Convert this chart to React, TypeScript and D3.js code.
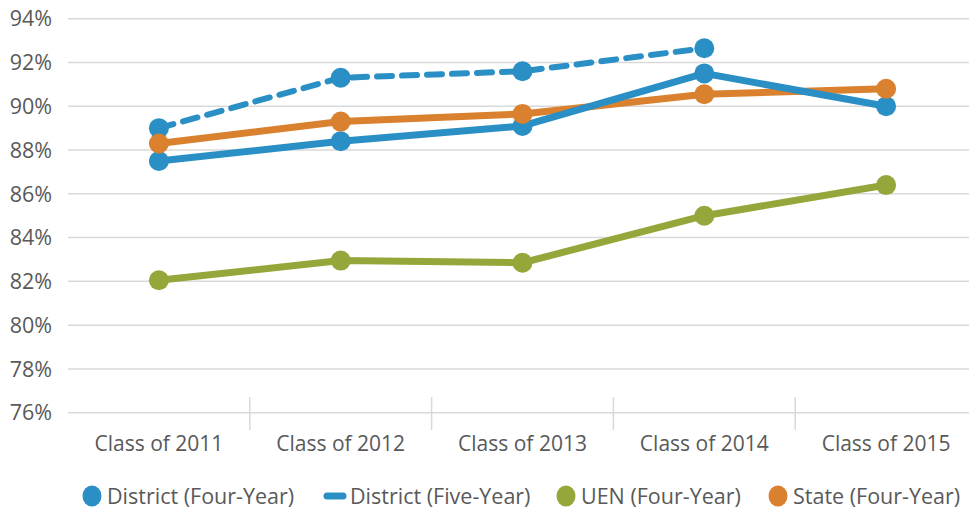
import React from "react";
import * as d3 from "d3";

const categories = ["Class of 2011", "Class of 2012", "Class of 2013", "Class of 2014", "Class of 2015"];
const districtFour = [87.5, 88.4, 89.1, 91.5, 90.0];
const districtFive = [89.0, 91.3, 91.6, 92.65];
const uenFour = [82.05, 82.95, 82.85, 85.0, 86.4];
const stateFour = [88.3, 89.3, 89.65, 90.55, 90.8];
const yTicks = [76, 78, 80, 82, 84, 86, 88, 90, 92, 94];

const BLUE = "#2a8fc4";
const ORANGE = "#d9812f";
const GREEN = "#95a73a";
const TEXT = "#595959";
const FONT = "'Open Sans', 'Noto Sans', sans-serif";

export default function App() {
  const W = 969, H = 512;
  const x = d3.scaleBand<string>().domain(categories).range([68, 977]);
  const y = d3.scaleLinear().domain([76, 94]).range([412.7, 18.7]);
  const cx = (c: string) => (x(c) ?? 0) + x.bandwidth() / 2;
  const line = d3.line<number>().x((_, i) => cx(categories[i])).y((v) => y(v));

  const series = [
    { key: "uen", data: uenFour, color: GREEN, dash: undefined as string | undefined },
    { key: "state", data: stateFour, color: ORANGE, dash: undefined },
    { key: "five", data: districtFive, color: BLUE, dash: "15 10" },
    { key: "four", data: districtFour, color: BLUE, dash: undefined },
  ];
  const markerOrder = [series[2], series[3], series[0], series[1]];

  const boundaries = categories.map((c) => x(c) ?? 0).slice(1);

  const legend = [
    { label: "District (Four-Year)", color: BLUE, type: "circle", mx: 92, tx: 107 },
    { label: "District (Five-Year)", color: BLUE, type: "dash", mx: 335, tx: 350 },
    { label: "UEN (Four-Year)", color: GREEN, type: "circle", mx: 566, tx: 581 },
    { label: "State (Four-Year)", color: ORANGE, type: "circle", mx: 778, tx: 793 },
  ];

  return (
    <svg width={W} height={H} style={{ position: "absolute", left: 0, top: 0, background: "#fff" }}>
      <rect width={W} height={H} fill="#fff" />
      {yTicks.map((t) => (
        <g key={t}>
          <line x1={68} x2={W} y1={y(t)} y2={y(t)} stroke="#d9d9d9" strokeWidth={1.5} />
          <text x={52} y={y(t)} dy="0.36em" textAnchor="end" fontFamily={FONT} fontSize={21.5} fontWeight={500} fill={TEXT}>
            {t}%
          </text>
        </g>
      ))}
      {boundaries.map((b, i) => (
        <line key={i} x1={b} x2={b} y1={397} y2={430} stroke="#d9d9d9" strokeWidth={1.5} />
      ))}
      {categories.map((c) => (
        <text key={c} x={cx(c)} y={451} textAnchor="middle" fontFamily={FONT} fontSize={21} fontWeight={500} fill={TEXT}>
          {c}
        </text>
      ))}
      {series.map((s) => (
        <path
          key={s.key}
          d={line(s.data) ?? ""}
          fill="none"
          stroke={s.color}
          strokeWidth={s.dash ? 6 : 7}
          strokeDasharray={s.dash}
          strokeLinejoin="round"
          strokeLinecap={s.dash ? "round" : "butt"}
        />
      ))}
      {markerOrder.map((s) =>
        s.data.map((v, i) => (
          <circle key={s.key + i} cx={cx(categories[i])} cy={y(v)} r={10} fill={s.color} />
        ))
      )}
      {legend.map((l) => (
        <g key={l.label}>
          {l.type === "circle" ? (
            <ellipse cx={l.mx} cy={496} rx={9.5} ry={10.5} fill={l.color} />
          ) : (
            <line x1={l.mx - 8} x2={l.mx + 8} y1={496} y2={496} stroke={l.color} strokeWidth={7} strokeLinecap="round" />
          )}
          <text x={l.tx} y={496} dy="0.36em" fontFamily={FONT} fontSize={21.5} fontWeight={500} fill={TEXT}>
            {l.label}
          </text>
        </g>
      ))}
    </svg>
  );
}
